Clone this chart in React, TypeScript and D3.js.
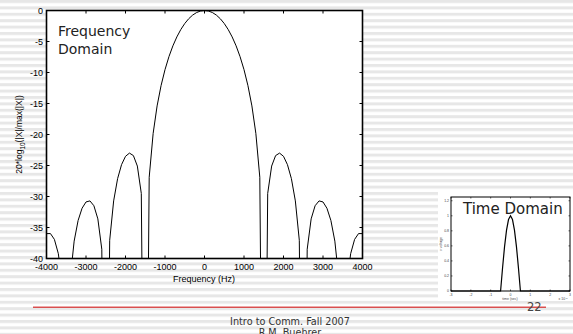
import React from 'react';
import * as d3 from 'd3';

// spectrum samples, 100 Hz apart
const FREQ_HZ = d3.range(-4000, 4001, 100);
const MAG_DB = [
  -35.99, -35.98, -36.92, -39.23, -44.32, -100, -43.31, -37.2, -33.87, -31.9,
  -30.88, -30.71, -31.49, -33.61, -38.51, -100, -37.06, -30.71, -27.12, -24.86,
  -23.52, -23.0, -23.4, -25.09, -29.51, -100, -26.9, -19.82, -15.39, -12.12,
  -9.54, -7.44, -5.7, -4.26, -3.07, -2.1, -1.33, -0.74, -0.33, -0.08,
  0,
  -0.08, -0.33, -0.74, -1.33, -2.1, -3.07, -4.26, -5.7, -7.44, -9.54,
  -12.12, -15.39, -19.82, -26.9, -100, -29.51, -25.09, -23.4, -23.0, -23.52,
  -24.86, -27.12, -30.71, -37.06, -100, -38.51, -33.61, -31.49, -30.71, -30.88,
  -31.9, -33.87, -37.2, -43.31, -100, -44.32, -39.23, -36.92, -35.98, -35.99,
];
const FREQ_TICKS = [-4000, -3000, -2000, -1000, 0, 1000, 2000, 3000, 4000];
const DB_TICKS = [0, -5, -10, -15, -20, -25, -30, -35, -40];

// time-domain pulse (ms, volts)
const TIME_MS = [-3, -0.5, -0.4, -0.3, -0.2, -0.1, 0, 0.1, 0.2, 0.3, 0.4, 0.5, 3];
const VOLTS = [0, 0, 0.31, 0.59, 0.81, 0.95, 1, 0.95, 0.81, 0.59, 0.31, 0, 0];
const TIME_TICKS = [-3, -2, -1, 0, 1, 2, 3];
const VOLT_TICKS = [0, 0.2, 0.4, 0.6, 0.8, 1, 1.2];

const W = 573;
const H = 334;
const main = { left: 46.5, right: 362.5, top: 10.5, bottom: 258.5 };
const inset = { left: 451, right: 570, top: 197, bottom: 291 };
const axisFont = '"Liberation Sans", Arial, sans-serif';
const slideFont = '"DejaVu Sans", Verdana, sans-serif';

export default function App() {
  const x = d3.scaleLinear().domain([-4000, 4000]).range([main.left, main.right]);
  const y = d3.scaleLinear().domain([-40, 0]).range([main.bottom, main.top]);
  const spec = d3.line<number>()
    .x((_, i) => x(FREQ_HZ[i]))
    .y(d => y(d))(MAG_DB) as string;

  const tx = d3.scaleLinear().domain([-3, 3]).range([inset.left, inset.right]);
  const ty = d3.scaleLinear().domain([0, 1.25]).range([inset.bottom, inset.top]);
  const pulse = d3.line<number>()
    .x((_, i) => tx(TIME_MS[i]))
    .y(d => ty(d))(VOLTS) as string;

  const tk = 3;

  return (
    <svg width={W} height={H} style={{ position: 'absolute', left: 0, top: 0 }}>
      <defs>
        <pattern id="stripes" width={W} height={6.4} patternUnits="userSpaceOnUse">
          <rect width={W} height={6.4} fill="#fff" />
          <rect width={W} height={3} fill="#e7e7e7" />
        </pattern>
        <clipPath id="mainClip">
          <rect x={main.left} y={main.top} width={main.right - main.left} height={main.bottom - main.top} />
        </clipPath>
      </defs>
      <rect width={W} height={H} fill="url(#stripes)" />

      {/* frequency domain plot */}
      <rect x={main.left} y={main.top} width={main.right - main.left} height={main.bottom - main.top} fill="#fff" />
      <path d={spec} fill="none" stroke="#000" strokeWidth={1} clipPath="url(#mainClip)" />
      {FREQ_TICKS.map(t => (
        <g key={'fx' + t}>
          <line x1={x(t)} x2={x(t)} y1={main.bottom} y2={main.bottom - tk} stroke="#000" />
          <line x1={x(t)} x2={x(t)} y1={main.top} y2={main.top + tk} stroke="#000" />
          <text x={x(t)} y={270} textAnchor="middle" fontSize={9} fontFamily={axisFont}>{t}</text>
        </g>
      ))}
      {DB_TICKS.map(t => (
        <g key={'fy' + t}>
          <line x1={main.left} x2={main.left + tk} y1={y(t)} y2={y(t)} stroke="#000" />
          <line x1={main.right} x2={main.right - tk} y1={y(t)} y2={y(t)} stroke="#000" />
          <text x={43} y={y(t) + 3} textAnchor="end" fontSize={9} fontFamily={axisFont}>{t}</text>
        </g>
      ))}
      <rect x={main.left} y={main.top} width={main.right - main.left} height={main.bottom - main.top}
        fill="none" stroke="#000" strokeWidth={1.6} />
      <text x={204} y={282} textAnchor="middle" fontSize={9} fontFamily={axisFont}>Frequency (Hz)</text>
      <text transform={`translate(22,${(main.top + main.bottom) / 2}) rotate(-90)`} textAnchor="middle"
        fontSize={8.5} fontFamily={axisFont}>
        20*log<tspan fontSize={6.5} dy={2.5}>10</tspan><tspan dy={-2.5}>(|X|/max(|X|)</tspan>
      </text>
      <text x={58} y={36} fontSize={14} fontFamily={slideFont} fill="#222">Frequency</text>
      <text x={58} y={54} fontSize={14} fontFamily={slideFont} fill="#222">Domain</text>

      {/* time domain inset */}
      <rect x={438} y={190} width={135} height={111} fill="#fff" />
      <path d={pulse} fill="none" stroke="#000" strokeWidth={1.2} />
      {TIME_TICKS.map(t => (
        <g key={'tx' + t}>
          <line x1={tx(t)} x2={tx(t)} y1={inset.bottom} y2={inset.bottom - 1.5} stroke="#000" strokeWidth={0.6} />
          <line x1={tx(t)} x2={tx(t)} y1={inset.top} y2={inset.top + 1.5} stroke="#000" strokeWidth={0.6} />
          <text x={tx(t)} y={296} textAnchor="middle" fontSize={3.5} fontFamily={axisFont} fill="#444">{t}</text>
        </g>
      ))}
      {VOLT_TICKS.map(t => (
        <g key={'ty' + t}>
          <line x1={inset.left} x2={inset.left + 1.5} y1={ty(t)} y2={ty(t)} stroke="#000" strokeWidth={0.6} />
          <line x1={inset.right} x2={inset.right - 1.5} y1={ty(t)} y2={ty(t)} stroke="#000" strokeWidth={0.6} />
          <text x={449} y={ty(t) + 1.2} textAnchor="end" fontSize={3.5} fontFamily={axisFont} fill="#444">{t}</text>
        </g>
      ))}
      <rect x={inset.left} y={inset.top} width={inset.right - inset.left} height={inset.bottom - inset.top}
        fill="none" stroke="#000" strokeWidth={1} />
      <text x={510} y={300} textAnchor="middle" fontSize={3.5} fontFamily={axisFont} fill="#444">time (sec)</text>
      <text x={563} y={300} textAnchor="middle" fontSize={3.5} fontFamily={axisFont} fill="#444">x 10<tspan dy={-1.5} fontSize={2.5}>-3</tspan></text>
      <text transform={`translate(442,${(inset.top + inset.bottom) / 2}) rotate(-90)`} textAnchor="middle"
        fontSize={3.5} fontFamily={axisFont} fill="#444">v voltage</text>
      <text x={463} y={214} fontSize={15} fontFamily={slideFont} fill="#222">Time Domain</text>

      {/* slide footer */}
      <rect x={33} y={306.6} width={513} height={1.2} fill="#d42a2a" />
      <text x={527} y={311} fontSize={11.5} fontFamily={slideFont} fill="#444">22</text>
      <text x={290} y={324.5} textAnchor="middle" fontSize={9.7} fontFamily={slideFont} fill="#333">Intro to Comm. Fall 2007</text>
      <text x={290} y={336} textAnchor="middle" fontSize={9.7} fontFamily={slideFont} fill="#333">R.M. Buehrer</text>
    </svg>
  );
}
